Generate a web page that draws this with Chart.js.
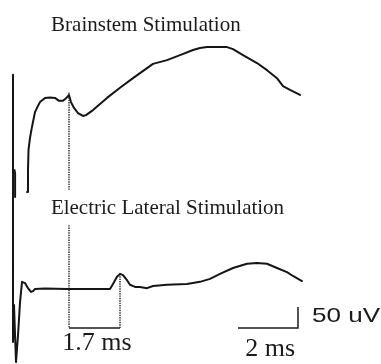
<!DOCTYPE html>
<html>
<head>
<meta charset="utf-8">
<script src="https://cdn.jsdelivr.net/npm/chart.js@4.4.1/dist/chart.umd.min.js"></script>
<style>
  html, body { margin: 0; padding: 0; background: #fff; }
  #wrap { width: 381px; height: 364px; }
</style>
</head>
<body>
<div id="wrap"><canvas id="c" width="381" height="364"></canvas></div>
<script>
// Evoked responses, time in ms after the stimulus, amplitude in uV.
// null marks a break in the recorded trace.
const brainstemTime = [0, 0, 0.02, 0.05, 0.07, 0.07, 0.08,
  0.467, 0.5, 0.517, 0.567, 0.633, 0.733, 0.833, 0.9, 1.067, 1.233, 1.4, 1.533, 1.667, 1.767, 1.867,
  1.933, 2.033, 2.167, 2.333, 2.433, 2.667, 3.133, 3.567, 4.0, 4.467, 4.667, 5.133, 5.567, 6.0,
  6.233, 6.467, 7.133, 7.333, 7.667, 8.133, 8.467, 8.8, 9.0, 9.233, 9.567];
const brainstemUV = [279, -19, null, 52, 45, -12, null,
  0, 52, 100, 129, 155, 190, 205, 214, 224, 225, 224, 217, 217, 223, 231,
  214, 200, 188, 181, 183, 195, 224, 248, 271, 295, 305, 314, 326, 338,
  343, 345, 345, 340, 326, 307, 290, 271, 252, 243, 231];

const lateralTime = [0, 0, 0.033, 0.1, 0.167, 0.233, 0.3, 0.4, 0.5, 0.6, 0.667, 0.733, 1.067, 1.8,
  3.233, 3.333, 3.467, 3.567, 3.667, 3.8, 3.9, 4.067, 4.233, 4.467, 4.667, 5.133, 5.8, 6.233,
  6.567, 6.9, 7.333, 7.8, 8.133, 8.467, 8.8, 9.133, 9.333, 9.633];
const lateralUV = [236, -126, -38, -174, -110, -33, 17, 14, 2, -7, -5, 0, 1, 0,
  0, 12, 29, 36, 33, 21, 10, 5, 5, 2, 7, 10, 12, 17,
  24, 36, 50, 60, 62, 60, 50, 40, 31, 19];

// Peak latencies (ms) and the interval between them
const brainstemPeakMs = 1.867;
const latencyDiffMs = 1.7;
const latencyLabel = '1.7 ms';

// Calibration bars
const timeBarMs = 2;
const timeBarLabel = '2 ms';
const ampBarUV = 50;
const ampBarLabel = '50 uV';

const titles = ['Brainstem Stimulation', 'Electric Lateral Stimulation'];

// Layout: vertical offset of the upper trace and the level of the calibration bars
const upperOffset = 231;
const barLevel = -93;
const timeBarStart = 7.5;

const toPoints = (ts, vs, off) => ts.map((t, i) => ({ x: t, y: vs[i] === null ? null : vs[i] + off }));

const brainstemPts = toPoints(brainstemTime, brainstemUV, upperOffset);
const lateralPts = toPoints(lateralTime, lateralUV, 0);

const lateralPeakMs = brainstemPeakMs + latencyDiffMs;
const brainstemPeakUV = Math.max(...brainstemUV.slice(7, 22)) + upperOffset;
const lateralPeakUV = Math.max(...lateralUV.slice(13, 22));

const dotted = [
  { x: brainstemPeakMs, y: brainstemPeakUV + 6 },
  { x: brainstemPeakMs, y: 236 },
  { x: brainstemPeakMs, y: null },
  { x: brainstemPeakMs, y: 152 },
  { x: brainstemPeakMs, y: barLevel },
  { x: lateralPeakMs, y: null },
  { x: lateralPeakMs, y: lateralPeakUV },
  { x: lateralPeakMs, y: barLevel }
];

const bars = [
  { x: brainstemPeakMs, y: barLevel },
  { x: lateralPeakMs, y: barLevel },
  { x: lateralPeakMs, y: null },
  { x: timeBarStart, y: barLevel },
  { x: timeBarStart + timeBarMs, y: barLevel },
  { x: timeBarStart + timeBarMs, y: barLevel + ampBarUV }
];

const lineStyle = {
  showLine: true, pointRadius: 0, tension: 0, spanGaps: false,
  borderJoinStyle: 'round', borderCapStyle: 'round'
};

const textPlugin = {
  id: 'labels',
  afterDatasetsDraw(chart) {
    const { ctx, scales: { x, y } } = chart;
    ctx.save();
    ctx.fillStyle = '#1b1b1b';
    ctx.textBaseline = 'alphabetic';
    ctx.textAlign = 'center';
    ctx.font = '21px "Liberation Serif", "Times New Roman", serif';
    ctx.fillText(titles[0], x.getPixelForValue(4.43), y.getPixelForValue(614));
    ctx.fillText(titles[1], x.getPixelForValue(5.15), y.getPixelForValue(179));
    ctx.font = '26px "Liberation Serif", "Times New Roman", serif';
    ctx.fillText(latencyLabel, x.getPixelForValue((brainstemPeakMs + lateralPeakMs) / 2 + 0.08), y.getPixelForValue(-145));
    ctx.fillText(timeBarLabel, x.getPixelForValue(timeBarStart + timeBarMs / 2 + 0.07), y.getPixelForValue(-160));
    // amplitude label, set slightly wide
    ctx.textAlign = 'left';
    ctx.font = '21px "Liberation Sans", Arial, sans-serif';
    const lx = x.getPixelForValue(timeBarStart + timeBarMs + 0.47);
    const ly = y.getPixelForValue(-79);
    ctx.translate(lx, ly);
    ctx.scale(1.24, 1);
    ctx.fillText(ampBarLabel, 0, 0);
    ctx.restore();
  }
};

new Chart(document.getElementById('c'), {
  type: 'scatter',
  data: {
    datasets: [
      Object.assign({ data: brainstemPts, borderColor: '#151515', borderWidth: 2 }, lineStyle),
      Object.assign({ data: lateralPts, borderColor: '#151515', borderWidth: 2 }, lineStyle),
      Object.assign({ data: dotted, borderColor: '#222', borderWidth: 1.4, borderDash: [1.4, 1] }, lineStyle, { borderCapStyle: 'butt' }),
      Object.assign({ data: bars, borderColor: '#1b1b1b', borderWidth: 1.5 }, lineStyle, { borderCapStyle: 'butt', borderJoinStyle: 'miter' })
    ]
  },
  options: {
    responsive: false,
    devicePixelRatio: 1,
    animation: false,
    layout: { padding: 0 },
    plugins: { legend: { display: false }, tooltip: { enabled: false } },
    scales: {
      x: { type: 'linear', display: false, min: -0.4333, max: 12.2667 },
      y: { type: 'linear', display: false, min: -178.6, max: 688.1 }
    }
  },
  plugins: [textPlugin]
});
</script>
</body>
</html>
